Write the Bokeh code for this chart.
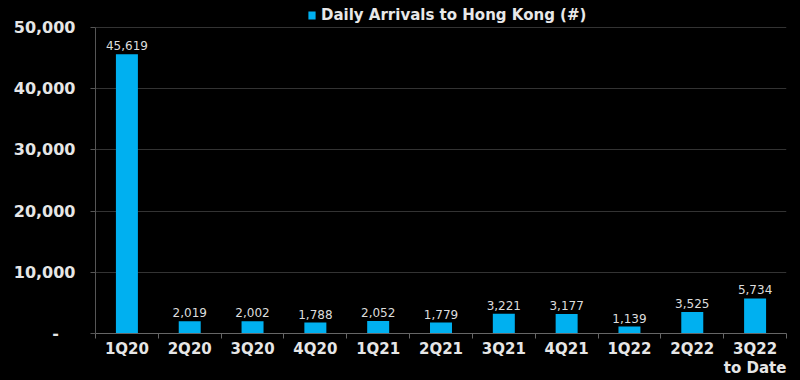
from bokeh.plotting import figure
from bokeh.models import ColumnDataSource, FixedTicker, Legend, LegendItem, NumeralTickFormatter, Range1d
from bokeh.core.properties import value
from bokeh.embed import file_html
from bokeh.resources import INLINE

categories = ["1Q20", "2Q20", "3Q20", "4Q20", "1Q21", "2Q21", "3Q21", "4Q21", "1Q22", "2Q22", "3Q22\nto Date"]
arrivals = [45619, 2019, 2002, 1788, 2052, 1779, 3221, 3177, 1139, 3525, 5734]
y_ticks = [0, 10000, 20000, 30000, 40000, 50000]
series_name = "Daily Arrivals to Hong Kong (#)"

BAR = "#00b0f0"
BG = "#000000"
FONT = "DejaVu Sans"

# layout: frame spans the full top; 50,000 sits 27px below the canvas top
FRAME_BOTTOM = 333
TOP_VALUE_Y = 27
y_max = y_ticks[-1]
y_end = y_max * FRAME_BOTTOM / (FRAME_BOTTOM - TOP_VALUE_Y)

xs = [i + 0.5 for i in range(len(categories))]
src = ColumnDataSource(dict(x=xs, y=arrivals, lbl=[f"{v:,}" for v in arrivals]))

p = figure(width=800, height=380, output_backend="svg", toolbar_location=None,
           x_range=(0, len(categories)), y_range=Range1d(0, y_end),
           background_fill_color=BG, border_fill_color=BG,
           min_border_left=95, min_border_right=14, min_border_top=0, min_border_bottom=380 - FRAME_BOTTOM)
p.outline_line_color = None

r = p.vbar(x="x", top="y", width=0.35, source=src, fill_color=BAR, line_color=None)
p.text(x="x", y="y", text="lbl", source=src, text_align="center", text_baseline="bottom",
       y_offset=-4, text_font_size="12px", text_color="#dddddd", text_font=value(FONT))

# x axis
p.xaxis.ticker = FixedTicker(ticks=xs, minor_ticks=list(range(len(categories) + 1)))
p.xaxis.major_label_overrides = {x: c for x, c in zip(xs, categories)}
p.xaxis.major_tick_line_color = None
p.xaxis.major_tick_out = 0
p.xaxis.major_tick_in = 0
p.xaxis.minor_tick_line_color = "#666666"
p.xaxis.minor_tick_out = 5
p.xaxis.minor_tick_in = 0
p.xaxis.axis_line_color = "#666666"
p.xaxis.major_label_text_font = FONT
p.xaxis.major_label_text_font_size = "15px"
p.xaxis.major_label_text_font_style = "bold"
p.xaxis.major_label_text_color = "#e6e6e6"
p.xaxis.major_label_text_line_height = 1.1
p.xaxis.major_label_standoff = 1
p.xgrid.grid_line_color = None

# y axis
p.yaxis.ticker = FixedTicker(ticks=y_ticks)
p.yaxis.bounds = (0, y_max)
p.yaxis.formatter = NumeralTickFormatter(format="0,0")
p.yaxis.major_label_overrides = {0: "-\u00a0\u00a0\u00a0"}
p.yaxis.axis_line_color = "#555555"
p.yaxis.major_tick_line_color = "#555555"
p.yaxis.major_tick_out = 5
p.yaxis.major_tick_in = 0
p.yaxis.minor_tick_line_color = None
p.yaxis.major_label_text_font = FONT
p.yaxis.major_label_text_font_size = "16px"
p.yaxis.major_label_text_font_style = "bold"
p.yaxis.major_label_text_color = "#e6e6e6"
p.yaxis.major_label_standoff = 15
p.ygrid.grid_line_color = "#333333"
p.ygrid.grid_line_width = 1

legend = Legend(items=[LegendItem(label=series_name, renderers=[r])], orientation="horizontal",
                location=(212, 309), background_fill_alpha=0, border_line_color=None,
                label_text_font=FONT,
                label_text_color="#e8e8e8", label_text_font_size="15px", label_text_font_style="bold",
                glyph_width=9, glyph_height=10, label_height=16, label_standoff=5,
                padding=0, margin=0)
p.add_layout(legend)

html = file_html(p, INLINE)
html = html.replace("<body>", "<body style=\"background:#000000;\">")
open("out.html", "w").write(html)
